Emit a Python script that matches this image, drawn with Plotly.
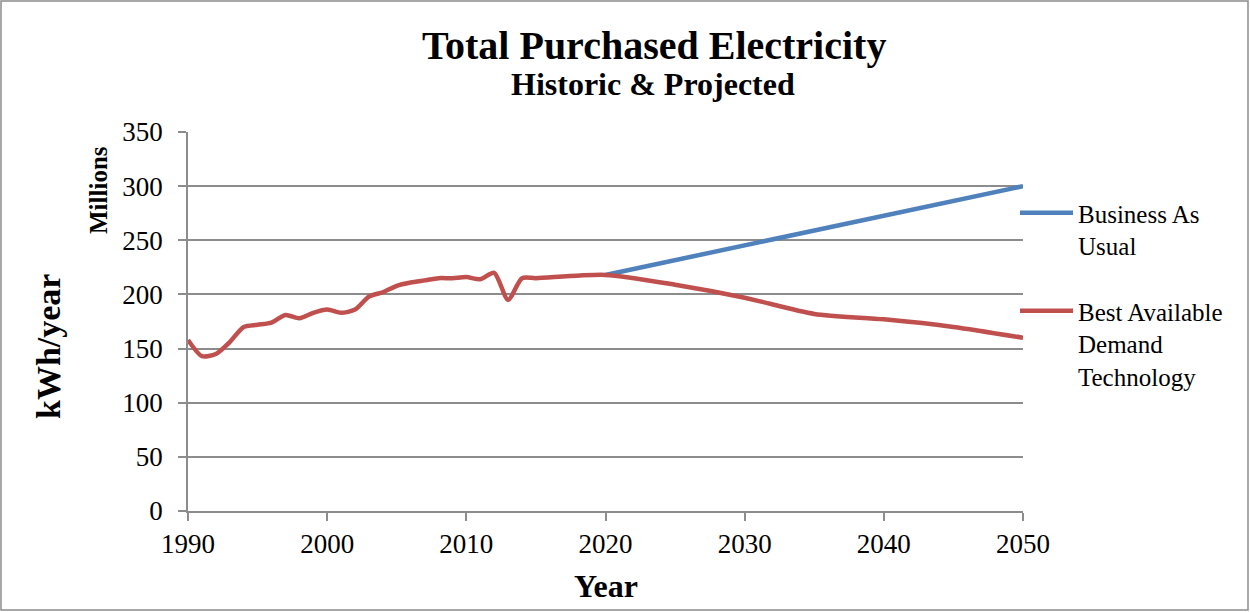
import plotly.graph_objects as go

# ---- data ----
bau_years = [2020, 2030, 2040, 2050]
bau_values = [218, 245, 273, 300]

badt_years = [1990, 1991, 1992, 1993, 1994, 1995, 1996, 1997, 1998, 1999,
              2000, 2001, 2002, 2003, 2004, 2005, 2006, 2007, 2008, 2009,
              2010, 2011, 2012, 2013, 2014, 2015, 2020, 2025, 2030, 2035,
              2040, 2045, 2050]
badt_values = [158, 143, 145, 156, 170, 172, 174, 181, 178, 183,
               186, 183, 186, 198, 202, 208, 211, 213, 215, 215,
               216, 214, 220, 195, 215, 215, 218, 209, 197, 182,
               177, 170, 160]

series_names = ["Business As<br>Usual", "Best Available<br>Demand<br>Technology"]
x_ticks = [1990, 2000, 2010, 2020, 2030, 2040, 2050]
y_ticks = [0, 50, 100, 150, 200, 250, 300, 350]

FONT = "Liberation Serif"
GRID = "#8c8c8c"

fig = go.Figure()
fig.add_trace(go.Scatter(x=bau_years, y=bau_values, mode="lines",
                         name=series_names[0], legendgroup="a",
                         line=dict(color="#4F81BD", width=4.5)))
fig.add_trace(go.Scatter(x=badt_years, y=badt_values, mode="lines",
                         name=series_names[1], legendgroup="b",
                         line=dict(color="#C0504D", width=4.5, shape="spline", smoothing=0.7)))

L, R, T, B = 188, 227, 132, 101
W, H = 1250, 612
pw, ph = W - L - R, H - T - B

def px(x):
    return (x - L) / pw

def py(y):
    return (H - B - y) / ph

fig.update_layout(
    width=W, height=H,
    margin=dict(l=L, r=R, t=T, b=B),
    paper_bgcolor="white", plot_bgcolor="white",
    font=dict(family=FONT, color="black"),
    showlegend=True,
    legend=dict(x=px(1015), xanchor="left", y=py(190), yanchor="top",
                font=dict(family=FONT, size=25, color="black"),
                valign="top", tracegroupgap=30, itemwidth=53,
                bgcolor="rgba(0,0,0,0)"),
    xaxis=dict(range=[1990, 2050], tickvals=x_ticks, showgrid=False,
               showline=True, linecolor=GRID, linewidth=1.5,
               ticks="outside", ticklen=8, tickcolor=GRID, tickwidth=1.5,
               tickfont=dict(family=FONT, size=27, color="black"),
               zeroline=False, fixedrange=True),
    yaxis=dict(range=[0, 350], tickvals=y_ticks, showgrid=True,
               gridcolor=GRID, gridwidth=1.5,
               showline=True, linecolor=GRID, linewidth=1.5,
               ticks="outside", ticklen=8, tickcolor=GRID, tickwidth=1.5,
               ticklabelstandoff=10,
               tickfont=dict(family=FONT, size=27, color="black"),
               zeroline=False, fixedrange=True),
)

def ann(text, x, y, size, angle=0):
    fig.add_annotation(text=text, xref="paper", yref="paper",
                       x=px(x), y=py(y), xanchor="center", yanchor="middle",
                       showarrow=False, textangle=angle,
                       font=dict(family=FONT, size=size, color="black"))

ann("<b>Total Purchased Electricity</b>", 654, 45, 40)
ann("<b>Historic &amp; Projected</b>", 653, 84, 32)
ann("<b>Year</b>", 606, 586, 32)
ann("<b>kWh/year</b>", 48, 347, 34, -90)
ann("<b>Millions</b>", 98, 190, 25, -90)

fig.add_shape(type="rect", xref="paper", yref="paper",
              x0=px(1), x1=px(1248), y0=py(610), y1=py(1),
              line=dict(color=GRID, width=1.5), layer="below")

fig.write_html("out.html")
